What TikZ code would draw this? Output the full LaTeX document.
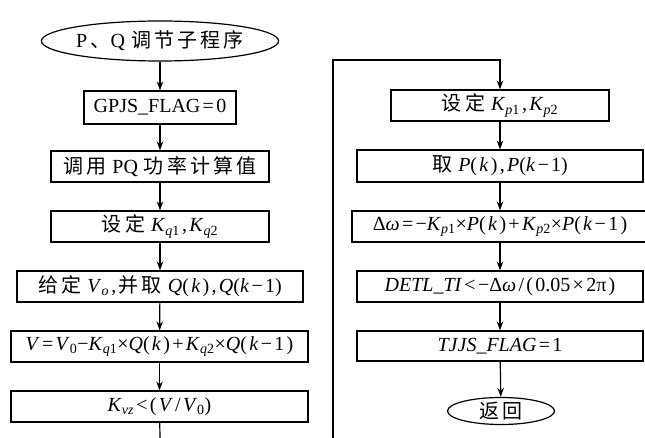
\documentclass[tikz,border=0pt]{standalone}
\usepackage{fontspec}
\setmainfont{Liberation Serif}
\newfontfamily\cjk{Noto Sans CJK SC}
\usetikzlibrary{shapes.geometric,arrows.meta}
\newcommand\cs{\hspace{0.16em}}
\newcommand\mi[1]{\textit{#1}}
\newcommand\sbs[1]{\textsubscript{#1}}
\newcommand\tn{\hspace{2.3pt}}
\begin{document}
\begin{tikzpicture}[x=1pt,y=-1pt,
  box/.style={draw, line width=1.2pt, inner sep=0pt, minimum height=31pt, font=\fontsize{20}{22}\selectfont},
  term/.style={draw, ellipse, line width=1.2pt, inner sep=0pt, font=\fontsize{20}{22}\selectfont},
  arr/.style={line width=1.2pt, -{Stealth[length=9pt,width=6.5pt,inset=3pt]}},
  ln/.style={line width=1.2pt}]
\useasboundingbox (0,0) rectangle (645,438);
% left column
\node[term, minimum width=200pt, minimum height=40pt] (s) at (160,41) {P\,{\cjk 、}Q\hspace{0.3em}{\cjk 调\cs 节\cs 子\cs 程\cs 序}};
\node[box, minimum width=152pt, minimum height=33pt] (b1) at (160,107.5) {GPJS\_FLAG\tn=\tn0};
\node[box, minimum width=218pt] (b2) at (160,166.5) {{\cjk 调\cs 用}\hspace{0.3em}PQ\hspace{0.3em}{\cjk 功\cs 率\cs 计\cs 算\cs 值}};
\node[box, minimum width=218pt] (b3) at (160,226.5) {{\cjk 设\cs 定}\hspace{0.3em}\mi{K}\sbs{\mi{q}1}\tn,\tn\mi{K}\sbs{\mi{q}2}};
\node[box, minimum width=286pt] (b4) at (160,286.5) {{\cjk 给\cs 定}\hspace{0.3em}\mi{V}\sbs{\mi{o}}\tn,\tn{\cjk 并\cs 取}\hspace{0.3em}\mi{Q}(\tn\mi{k}\tn)\tn,\tn\mi{Q}(\mi{k}\tn−\tn1)};
\node[box, minimum width=297pt] (b5) at (159.5,346.5) {\mi{V}\tn=\tn\mi{V}\sbs{0}−\mi{K}\sbs{\mi{q}1}×\mi{Q}(\tn\mi{k}\tn)\tn+\tn\mi{K}\sbs{\mi{q}2}×\mi{Q}(\tn\mi{k}\tn−\tn1\tn)};
\node[box, minimum width=297pt] (b6) at (159.5,406.5) {\mi{K}\sbs{\mi{vz}}\tn<\tn(\tn\mi{V}\tn/\tn\mi{V}\sbs{0})};
\coordinate (le) at (160,438);
\draw[arr] (s) -- (b1);
\draw[arr] (b1) -- (b2);
\draw[arr] (b2) -- (b3);
\draw[arr] (b3) -- (b4);
\draw[arr] (b4) -- (b5);
\draw[arr] (b5) -- (b6);
\draw[ln] (b6) -- (le);
% right column
\node[box, minimum width=218pt] (r1) at (500,105.5) {{\cjk 设\cs 定}\hspace{0.3em}\mi{K}\sbs{\mi{p}1}\tn,\tn\mi{K}\sbs{\mi{p}2}};
\node[box, minimum width=286pt, minimum height=32pt] (r2) at (500,166) {{\cjk 取}\hspace{0.3em}\mi{P}(\tn\mi{k}\tn)\tn,\tn\mi{P}(\mi{k}\tn−\tn1)};
\node[box, minimum width=296pt] (r3) at (500,226.5) {Δ\mi{ω}\tn=\tn−\mi{K}\sbs{\mi{p}1}×\mi{P}(\tn\mi{k}\tn)\tn+\tn\mi{K}\sbs{\mi{p}2}×\mi{P}(\tn\mi{k}\tn−\tn1\tn)};
\node[box, minimum width=286pt] (r4) at (500,286.5) {\mi{DETL\_TI}\tn<\tn−Δ\mi{ω}\tn/\tn(\tn0.05\tn×\tn2π\tn)};
\node[box, minimum width=286pt, minimum height=30pt] (r5) at (500,346) {\mi{TJJS\_FLAG}\tn=\tn1};
\node[term, minimum width=107pt, minimum height=27pt] (e) at (501,411) {\cjk 返\cs 回};
\coordinate (lb) at (333,438);
\coordinate (lt) at (333,60);
\draw[arr] (lb) -- (lt) -| (r1.north);
\draw[arr] (r1) -- (r2);
\draw[arr] (r2) -- (r3);
\draw[arr] (r3) -- (r4);
\draw[arr] (r4) -- (r5);
\draw[arr] (r5) -- (e);
\end{tikzpicture}
\end{document}
